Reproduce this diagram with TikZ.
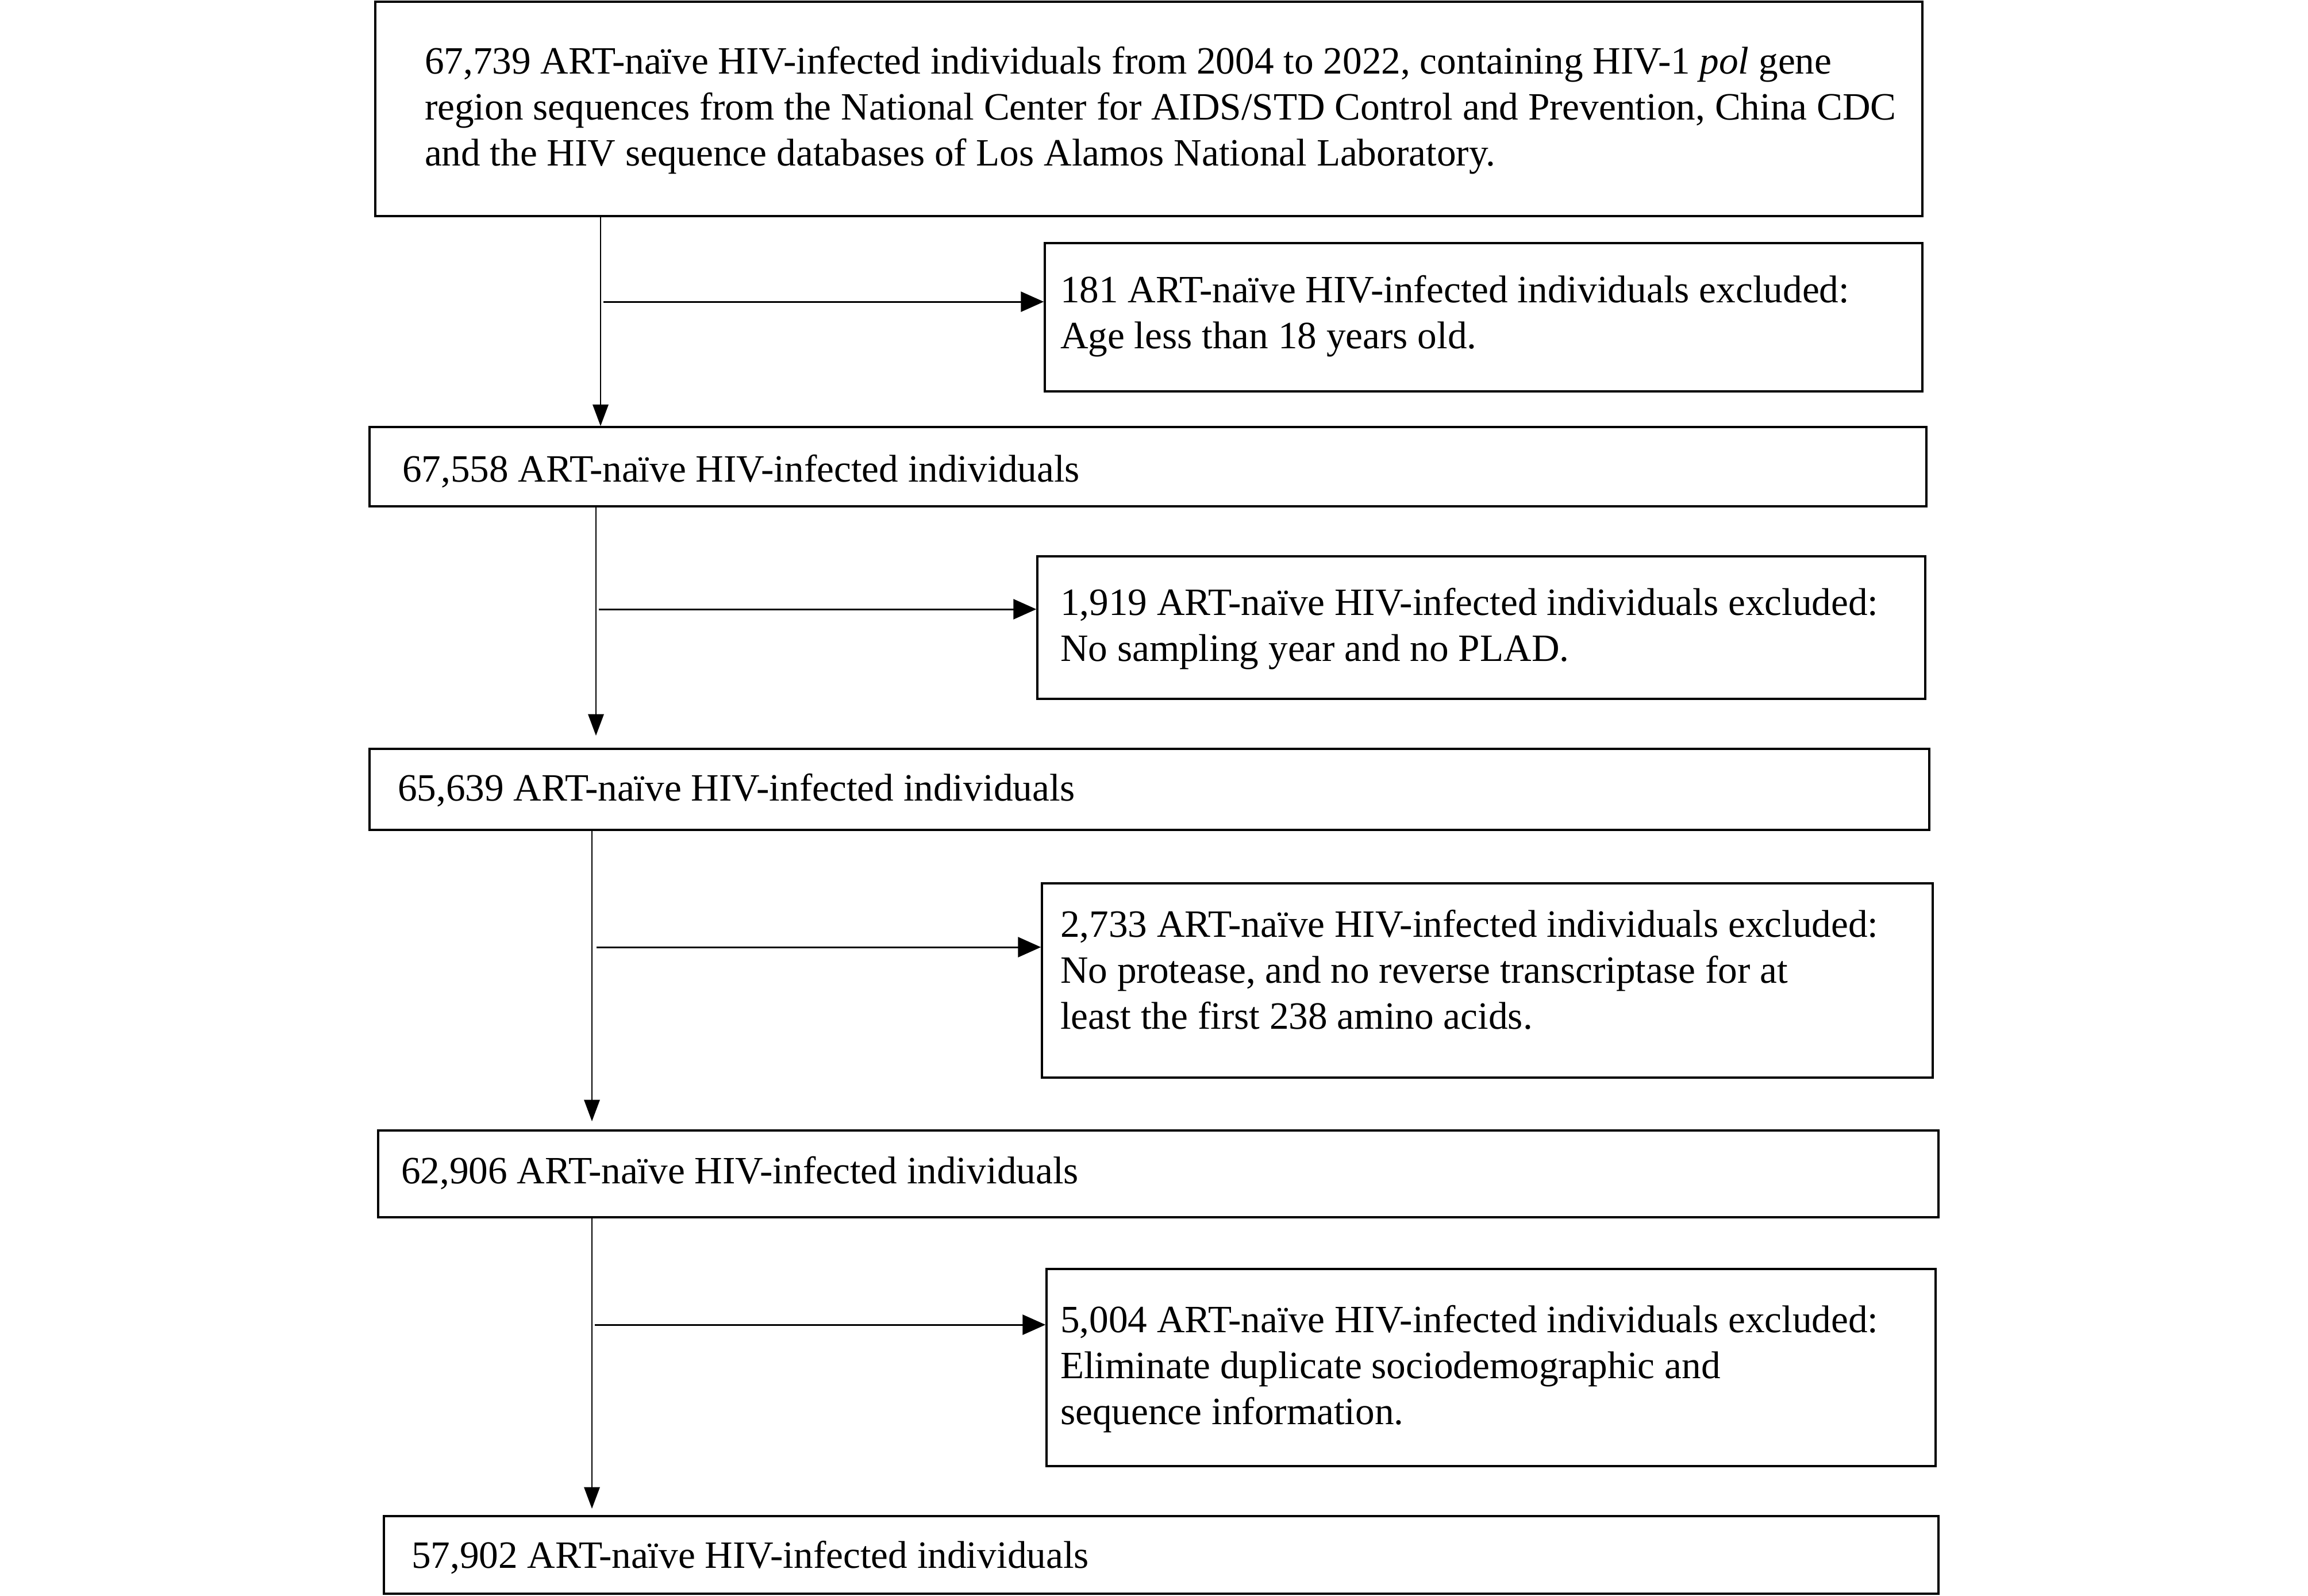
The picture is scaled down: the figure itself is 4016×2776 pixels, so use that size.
\documentclass[tikz,border=0pt]{standalone}
\usepackage{fontspec}
\setmainfont{Liberation Serif}
\usetikzlibrary{arrows.meta,fit}
\begin{document}
\begin{tikzpicture}[x=0.2pt,y=-0.2pt,
  box/.style={draw, line width=0.7pt, inner sep=0pt},
  txt/.style={anchor=base west, inner sep=0pt, align=left, font=\fontsize{13.45}{16}\selectfont},
  flow/.style={line width=0.4pt, -{Triangle[length=7.5pt,width=5.5pt]}},
  side/.style={line width=0.6pt, -{Triangle[length=8pt,width=7pt]}}]
\useasboundingbox (0,0) rectangle (4016,2776);
% main boxes
\node[box, fit={(653,3) (3345,376)}] (b1) {};
\node[box, fit={(643,743) (3352,881)}] (b2) {};
\node[box, fit={(643,1303) (3357,1444)}] (b3) {};
\node[box, fit={(658,1967) (3373,2118)}] (b4) {};
\node[box, fit={(668,2638) (3373,2773)}] (b5) {};
% exclusion boxes
\node[box, fit={(1818,423) (3345,681)}] (e1) {};
\node[box, fit={(1805,968) (3350,1216)}] (e2) {};
\node[box, fit={(1813,1537) (3363,1875)}] (e3) {};
\node[box, fit={(1821,2208) (3368,2551)}] (e4) {};
% texts (anchor = baseline of last line)
\node[txt] (t1) at (738,288) {67,739 ART-naïve HIV-infected individuals from 2004 to 2022, containing HIV-1 \textit{pol} gene\\region sequences from the National Center for AIDS/STD Control and Prevention, China CDC\\and the HIV sequence databases of Los Alamos National Laboratory.};
\node[txt] (t2) at (699,838) {67,558 ART-naïve HIV-infected individuals};
\node[txt] (t3) at (691,1393) {65,639 ART-naïve HIV-infected individuals};
\node[txt] (t4) at (697,2059) {62,906 ART-naïve HIV-infected individuals};
\node[txt] (t5) at (715,2728) {57,902 ART-naïve HIV-infected individuals};
\node[txt] (u1) at (1844,606) {181 ART-naïve HIV-infected individuals excluded:\\Age less than 18 years old.};
\node[txt] (u2) at (1844,1150) {1,919 ART-naïve HIV-infected individuals excluded:\\No sampling year and no PLAD.};
\node[txt] (u3) at (1844,1790) {2,733 ART-naïve HIV-infected individuals excluded:\\No protease, and no reverse transcriptase for at\\least the first 238 amino acids.};
\node[txt] (u4) at (1844,2478) {5,004 ART-naïve HIV-infected individuals excluded:\\Eliminate duplicate sociodemographic and\\sequence information.};
% branch points
\coordinate (c1) at (1045,525);
\coordinate (c2) at (1037,1060);
\coordinate (c3) at (1030,1648);
\coordinate (c4) at (1030,2305);
\coordinate (a2) at (1037,1280);
\coordinate (a3) at (1030,1951);
\coordinate (a4) at (1030,2625);
% vertical flow
\draw[flow] (c1 |- b1.south) -- (c1 |- b2.north);
\draw[flow] (c2 |- b2.south) -- (a2);
\draw[flow] (c3 |- b3.south) -- (a3);
\draw[flow] (c4 |- b4.south) -- (a4);
% side arrows
\draw[side] ([xshift=1pt]c1) -- (c1 -| e1.west);
\draw[side] ([xshift=1pt]c2) -- (c2 -| e2.west);
\draw[side] ([xshift=1.5pt]c3) -- (c3 -| e3.west);
\draw[side] ([xshift=1pt]c4) -- (c4 -| e4.west);
\end{tikzpicture}
\end{document}
